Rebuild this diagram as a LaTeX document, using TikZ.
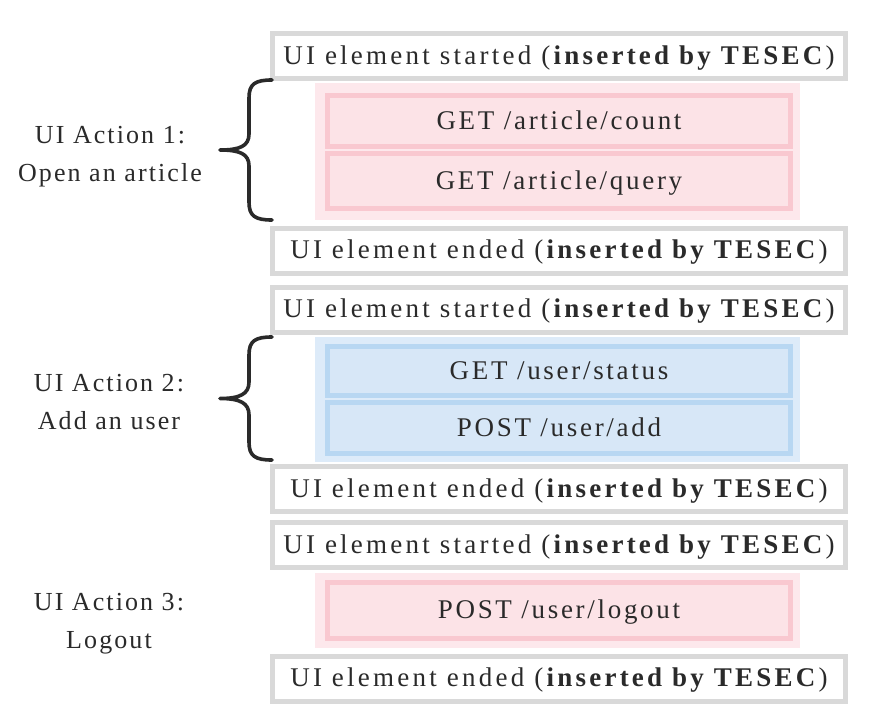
\documentclass[tikz,border=0pt]{standalone}
\usepackage{fontspec}
\setmainfont{Liberation Serif}
\newfontfamily\boxfont[LetterSpace=10]{Liberation Serif}
\newfontfamily\grayfont[LetterSpace=12]{Liberation Serif}
\newfontfamily\labfont[LetterSpace=8]{Liberation Serif}
\definecolor{uigray}{HTML}{D9D9D9}
\definecolor{txt}{HTML}{2A2A2A}
\definecolor{pinkout}{HTML}{FDE8EC}
\definecolor{pinkin}{HTML}{FCE3E7}
\definecolor{pinkbd}{HTML}{F9C8D0}
\definecolor{blueout}{HTML}{DDEBF9}
\definecolor{bluein}{HTML}{D7E7F7}
\definecolor{bluebd}{HTML}{B8D7F2}
\definecolor{bracecol}{HTML}{2A2A2A}
\tikzset{
  boxtext/.style={inner sep=0pt, text=txt, font=\boxfont\fontsize{27}{32}\selectfont, text height=20pt, text depth=4pt},
  graybox/.style={boxtext, font=\grayfont\fontsize{27}{32}\selectfont, draw=uigray, line width=5pt, fill=white, minimum width=573pt, minimum height=45pt},
  pinkgroup/.style={fill=pinkout, inner sep=0pt, minimum width=485pt},
  bluegroup/.style={fill=blueout, inner sep=0pt, minimum width=485pt},
  pinkbox/.style={boxtext, draw=pinkbd, fill=pinkin, line width=5pt, minimum width=463pt},
  bluebox/.style={boxtext, draw=bluebd, fill=bluein, line width=5pt, minimum width=463pt},
  actlabel/.style={inner sep=0pt, text=txt, align=center, font=\labfont\fontsize{26}{38}\selectfont},
  bracepath/.style={draw=bracecol, line width=3.6pt, line cap=round, line join=round}
}
\begin{document}
\begin{tikzpicture}[x=1pt,y=-1pt]
\useasboundingbox[fill=white] (0,0) rectangle (892,720);

% groups
\node[pinkgroup, minimum height=137pt] (g1) at (557.5,151.5) {};
\node[bluegroup, minimum height=125pt] (g2) at (557.5,399.5) {};
\node[pinkgroup, minimum height=75pt] (g3) at (557.5,610.5) {};

% request boxes
\node[pinkbox, minimum height=51pt] (r1) at (559,121) {GET /article/count};
\node[pinkbox, minimum height=55pt] (r2) at (559,181) {GET /article/query};
\node[bluebox, minimum height=49pt] (r3) at (559,371) {GET /user/status};
\node[bluebox, minimum height=51pt] (r4) at (559,428) {POST /user/add};
\node[pinkbox, minimum height=56pt] (r5) at (559,610.5) {POST /user/logout};

% UI element boxes
\node[graybox] (s1) at (559,56) {UI element started (\textbf{inserted by TESEC})};
\node[graybox] (e1) at (559,250.5) {UI element ended (\textbf{inserted by TESEC})};
\node[graybox] (s2) at (559,309.5) {UI element started (\textbf{inserted by TESEC})};
\node[graybox] (e2) at (559,489) {UI element ended (\textbf{inserted by TESEC})};
\node[graybox] (s3) at (559,545) {UI element started (\textbf{inserted by TESEC})};
\node[graybox] (e3) at (559,678.5) {UI element ended (\textbf{inserted by TESEC})};

% braces
\draw[bracepath] (272,80) .. controls (255,80) and (249,84) .. (249,98) -- (249,134)
  .. controls (249,146) and (240,150) .. (220,150)
  .. controls (240,150) and (249,154) .. (249,166) -- (249,202)
  .. controls (249,216) and (255,220) .. (272,220);
\draw[bracepath] (272,337) .. controls (255,337) and (249,341) .. (249,355) -- (249,382)
  .. controls (249,394) and (240,398.5) .. (220,398.5)
  .. controls (240,398.5) and (249,403) .. (249,415) -- (249,442)
  .. controls (249,456) and (255,460) .. (272,460);

% labels
\node[actlabel] (a1) at (110,157) {UI Action 1:\\Open an article};
\node[actlabel] (a2) at (109,402) {UI Action 2:\\Add an user};
\node[actlabel] (a3) at (109,624) {UI Action 3:\\Logout};
\end{tikzpicture}
\end{document}
